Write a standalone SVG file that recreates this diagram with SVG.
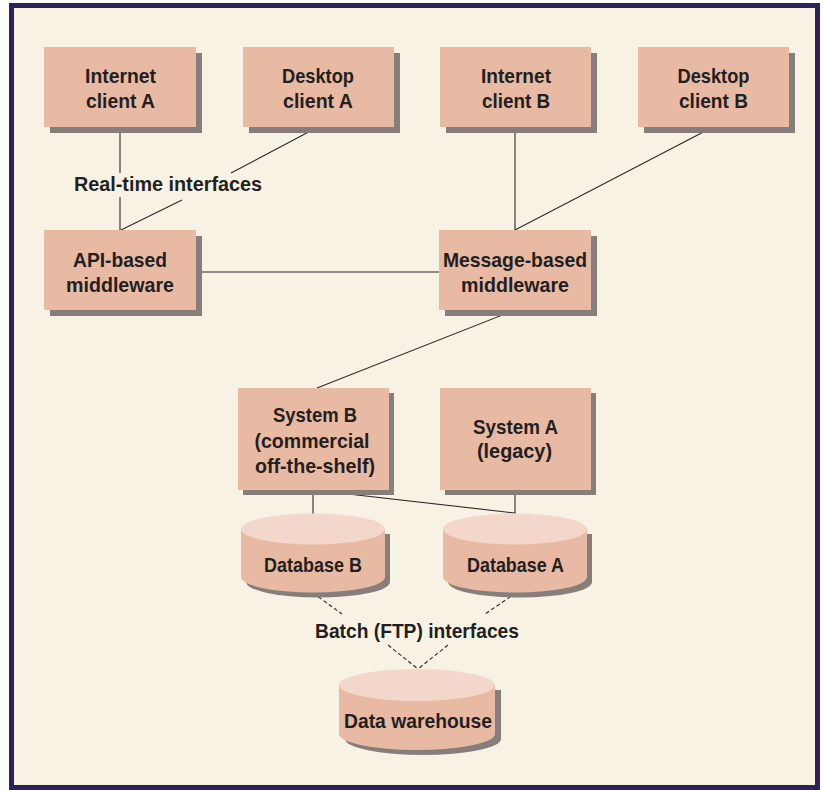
<svg xmlns="http://www.w3.org/2000/svg" width="823" height="790" viewBox="0 0 823 790">
<style>
.box{fill:#e8baa4}
.shd{fill:#877e7c}
.top{fill:#f3d7ca}
.t{font-family:"Liberation Sans",Arial,sans-serif;font-weight:bold;font-size:21px;fill:#231f20;text-anchor:middle}
.ln{stroke:#2a2a2a;stroke-width:1.1;fill:none}
.dl{stroke:#2a2a2a;stroke-width:1.1;fill:none;stroke-dasharray:4 2.5}
</style>
<rect x="0" y="0" width="823" height="790" fill="#ffffff"/>
<rect x="11.5" y="5.5" width="806" height="782" fill="#f8f2e5" stroke="#2e2159" stroke-width="5"/>

<g id="connectors">
<line class="ln" x1="120" y1="127" x2="120" y2="173"/>
<line class="ln" x1="120" y1="197" x2="120" y2="230"/>
<line class="ln" x1="318" y1="127" x2="231" y2="173"/>
<line class="ln" x1="182" y1="200" x2="121" y2="230"/>
<line class="ln" x1="515" y1="127" x2="515" y2="230"/>
<line class="ln" x1="713" y1="127" x2="515" y2="230"/>
<line class="ln" x1="196" y1="272" x2="439" y2="272"/>
<line class="ln" x1="515" y1="310" x2="317" y2="388"/>
<line class="ln" x1="313" y1="490" x2="313" y2="514"/>
<line class="ln" x1="313" y1="490" x2="515" y2="513"/>
<line class="ln" x1="515" y1="490" x2="515" y2="514"/>
<line class="dl" x1="313" y1="593" x2="342" y2="614"/>
<line class="dl" x1="516" y1="593" x2="485" y2="614"/>
<line class="dl" x1="388" y1="645" x2="418" y2="669"/>
<line class="dl" x1="448" y1="645" x2="418" y2="669"/>
</g>

<g id="internet-client-a">
<rect class="shd" x="50" y="53" width="152" height="80"/>
<rect class="box" x="44" y="47" width="152" height="80"/>
<text class="t" x="120.5" y="83" textLength="71" lengthAdjust="spacingAndGlyphs">Internet</text>
<text class="t" x="120.5" y="108" textLength="69" lengthAdjust="spacingAndGlyphs">client A</text>
</g>
<g id="desktop-client-a">
<rect class="shd" x="249" y="53" width="151" height="80"/>
<rect class="box" x="243" y="47" width="151" height="80"/>
<text class="t" x="318" y="83" textLength="72" lengthAdjust="spacingAndGlyphs">Desktop</text>
<text class="t" x="318" y="108" textLength="70" lengthAdjust="spacingAndGlyphs">client A</text>
</g>
<g id="internet-client-b">
<rect class="shd" x="446" y="53" width="151" height="80"/>
<rect class="box" x="440" y="47" width="151" height="80"/>
<text class="t" x="516" y="83" textLength="70" lengthAdjust="spacingAndGlyphs">Internet</text>
<text class="t" x="516" y="108" textLength="68" lengthAdjust="spacingAndGlyphs">client B</text>
</g>
<g id="desktop-client-b">
<rect class="shd" x="644" y="53" width="151" height="80"/>
<rect class="box" x="638" y="47" width="151" height="80"/>
<text class="t" x="713.5" y="83" textLength="72" lengthAdjust="spacingAndGlyphs">Desktop</text>
<text class="t" x="713.5" y="108" textLength="69" lengthAdjust="spacingAndGlyphs">client B</text>
</g>

<g id="label-realtime">
<text class="t" x="168" y="191" textLength="188" lengthAdjust="spacingAndGlyphs">Real-time interfaces</text>
</g>

<g id="api-middleware">
<rect class="shd" x="50" y="236" width="152" height="80"/>
<rect class="box" x="44" y="230" width="152" height="80"/>
<text class="t" x="120" y="267" textLength="94" lengthAdjust="spacingAndGlyphs">API-based</text>
<text class="t" x="120" y="292" textLength="108" lengthAdjust="spacingAndGlyphs">middleware</text>
</g>
<g id="message-middleware">
<rect class="shd" x="445" y="236" width="152" height="80"/>
<rect class="box" x="439" y="230" width="152" height="80"/>
<text class="t" x="515" y="267" textLength="144" lengthAdjust="spacingAndGlyphs">Message-based</text>
<text class="t" x="515" y="292" textLength="108" lengthAdjust="spacingAndGlyphs">middleware</text>
</g>

<g id="system-b">
<rect class="shd" x="243" y="393" width="151" height="102"/>
<rect class="box" x="238" y="388" width="151" height="102"/>
<text class="t" x="315" y="422" textLength="84" lengthAdjust="spacingAndGlyphs">System B</text>
<text class="t" x="312" y="448" textLength="115" lengthAdjust="spacingAndGlyphs">(commercial</text>
<text class="t" x="315" y="473" textLength="120" lengthAdjust="spacingAndGlyphs">off-the-shelf)</text>
</g>
<g id="system-a">
<rect class="shd" x="445" y="393" width="151" height="102"/>
<rect class="box" x="440" y="388" width="151" height="102"/>
<text class="t" x="515.5" y="434" textLength="85" lengthAdjust="spacingAndGlyphs">System A</text>
<text class="t" x="514.5" y="458" textLength="75" lengthAdjust="spacingAndGlyphs">(legacy)</text>
</g>

<g id="database-b">
<path class="shd" d="M246,534 L246,582 A72,15.5 0 0 0 390,582 L390,534 Z"/>
<path class="box" d="M241,529 L241,577 A72,15.5 0 0 0 385,577 L385,529 Z"/>
<ellipse class="top" cx="313" cy="529" rx="72" ry="15.5"/>
<text class="t" x="313" y="572" textLength="98" lengthAdjust="spacingAndGlyphs">Database B</text>
</g>
<g id="database-a">
<path class="shd" d="M448,534 L448,582 A72,15.5 0 0 0 592,582 L592,534 Z"/>
<path class="box" d="M443,529 L443,577 A72,15.5 0 0 0 587,577 L587,529 Z"/>
<ellipse class="top" cx="515" cy="529" rx="72" ry="15.5"/>
<text class="t" x="515.5" y="572" textLength="97" lengthAdjust="spacingAndGlyphs">Database A</text>
</g>

<g id="label-batch">
<text class="t" x="417" y="638" textLength="204" lengthAdjust="spacingAndGlyphs">Batch (FTP) interfaces</text>
</g>

<g id="data-warehouse">
<path class="shd" d="M345,690 L345,739 A78,16 0 0 0 501,739 L501,690 Z"/>
<path class="box" d="M339,685 L339,734 A78,16 0 0 0 495,734 L495,685 Z"/>
<ellipse class="top" cx="417" cy="685" rx="78" ry="16"/>
<text class="t" x="418" y="728" textLength="148" lengthAdjust="spacingAndGlyphs">Data warehouse</text>
</g>
</svg>
